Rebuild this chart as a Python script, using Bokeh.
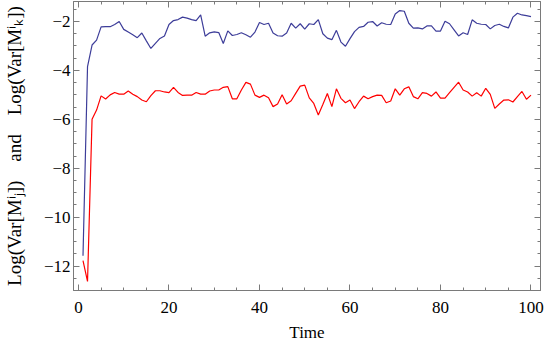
from bokeh.plotting import figure
from bokeh.models import (LinearAxis, SingleIntervalTicker, Range1d,
                          CustomJSTickFormatter, CustomLabelingPolicy,
                          GlobalInlineStyleSheet)
from bokeh.embed import file_html
from bokeh.resources import INLINE

time = list(range(1, 101))
var_k = [-11.58, -3.84, -2.96, -2.76, -2.22, -2.21, -2.21, -2.12, -2.00, -2.32,
         -2.43, -2.54, -2.66, -2.47, -2.79, -3.10, -2.89, -2.69, -2.59, -2.12,
         -1.96, -1.92, -1.82, -1.86, -1.92, -1.96, -1.73, -2.60, -2.46, -2.42,
         -2.45, -2.90, -2.38, -2.57, -2.53, -2.46, -2.54, -2.64, -2.43, -2.04,
         -2.12, -2.07, -2.47, -2.58, -2.60, -2.47, -2.07, -2.27, -2.09, -2.31,
         -2.09, -2.12, -1.92, -2.50, -2.68, -2.74, -2.36, -2.84, -3.01, -2.70,
         -2.41, -2.24, -2.20, -2.03, -2.00, -2.18, -2.05, -2.11, -2.12, -1.69,
         -1.55, -1.58, -2.07, -2.27, -2.26, -2.30, -2.18, -2.18, -2.39, -2.39,
         -1.99, -2.09, -2.34, -2.59, -2.46, -2.53, -1.93, -2.07, -2.11, -2.12,
         -2.30, -2.16, -2.11, -2.20, -2.26, -1.82, -1.66, -1.73, -1.76, -1.80]
var_j = [-11.78, -12.63, -6.00, -5.62, -5.04, -5.17, -5.00, -4.90, -4.97, -4.97,
         -4.84, -4.97, -5.07, -5.21, -5.28, -5.03, -4.83, -4.83, -4.88, -4.91,
         -4.69, -4.90, -5.02, -5.01, -5.01, -4.90, -4.97, -4.97, -4.84, -4.80,
         -4.80, -4.69, -4.66, -5.16, -5.16, -4.80, -4.49, -4.56, -5.01, -5.10,
         -5.01, -5.12, -5.48, -5.37, -4.99, -5.37, -5.24, -4.94, -4.64, -4.60,
         -5.12, -5.35, -5.82, -5.39, -4.94, -5.48, -4.75, -5.14, -5.32, -5.21,
         -5.56, -5.28, -5.05, -5.16, -5.07, -5.01, -5.02, -5.32, -5.25, -4.75,
         -5.01, -4.75, -4.67, -5.07, -5.16, -4.91, -4.94, -5.05, -4.88, -5.13,
         -5.13, -4.91, -4.69, -4.48, -4.80, -4.88, -5.05, -4.91, -5.05, -4.73,
         -4.98, -5.55, -5.37, -5.21, -5.20, -5.29, -5.07, -4.86, -5.18, -5.01]

x_label = "Time"
y_label = "Log(Var[M\u2071\u2c7c])\u2003and\u2003Log(Var[M\u2071\u2096])"

FONT = "Liberation Serif"
FRAME = "#7a7a7a"

p = figure(width=545, height=347, output_backend="svg", toolbar_location=None,
           x_range=Range1d(-1.1, 102.1), y_range=Range1d(-13.0, -1.18),
           min_border_left=72, min_border_right=5, min_border_top=1,
           min_border_bottom=57, x_axis_location=None, y_axis_location=None)
p.stylesheets = [GlobalInlineStyleSheet(css="html, body { margin: 0; padding: 0; }")]
p.grid.visible = False
p.outline_line_color = FRAME
p.background_fill_color = "white"
p.border_fill_color = "white"

fmt = CustomJSTickFormatter(code="return (tick < 0 ? '\\u2212' : '') + Math.abs(tick).toFixed(0);")
no_labels = CustomLabelingPolicy(code="""
try { return new indices.constructor(indices.size) } catch (e) { return indices }
""")


def make_axis(xdir, labels):
    tk = SingleIntervalTicker(interval=20 if xdir else 2, num_minor_ticks=4)
    ax = LinearAxis(ticker=tk, formatter=fmt)
    ax.axis_line_color = FRAME
    ax.major_tick_line_color = FRAME
    ax.minor_tick_line_color = FRAME
    ax.major_tick_in = 6
    ax.major_tick_out = 0
    ax.minor_tick_in = 3
    ax.minor_tick_out = 0
    if labels:
        ax.major_label_text_font = FONT
        ax.major_label_text_font_size = "17px"
        ax.major_label_text_color = "black"
        ax.axis_label_text_font = FONT
        ax.axis_label_text_font_size = "17px"
        ax.axis_label_text_font_style = "normal"
        ax.axis_label_text_color = "black"
    else:
        ax.major_label_policy = no_labels
        ax.major_label_text_font_size = "0px"
        ax.major_label_standoff = 0
    return ax


xb = make_axis(True, True)
xb.axis_label = x_label
xb.major_label_standoff = 11
xb.axis_label_standoff = 7
p.add_layout(xb, "below")
yl = make_axis(False, True)
yl.axis_label = y_label
yl.axis_label_text_font_size = "19px"
yl.major_label_standoff = 3
yl.axis_label_standoff = 16
p.add_layout(yl, "left")
p.add_layout(make_axis(True, False), "above")
p.add_layout(make_axis(False, False), "right")

p.line(time, var_k, line_color="#3d3d99", line_width=1.2)
p.line(time, var_j, line_color="#ff0000", line_width=1.2)

open("out.html", "w").write(file_html(p, INLINE))
